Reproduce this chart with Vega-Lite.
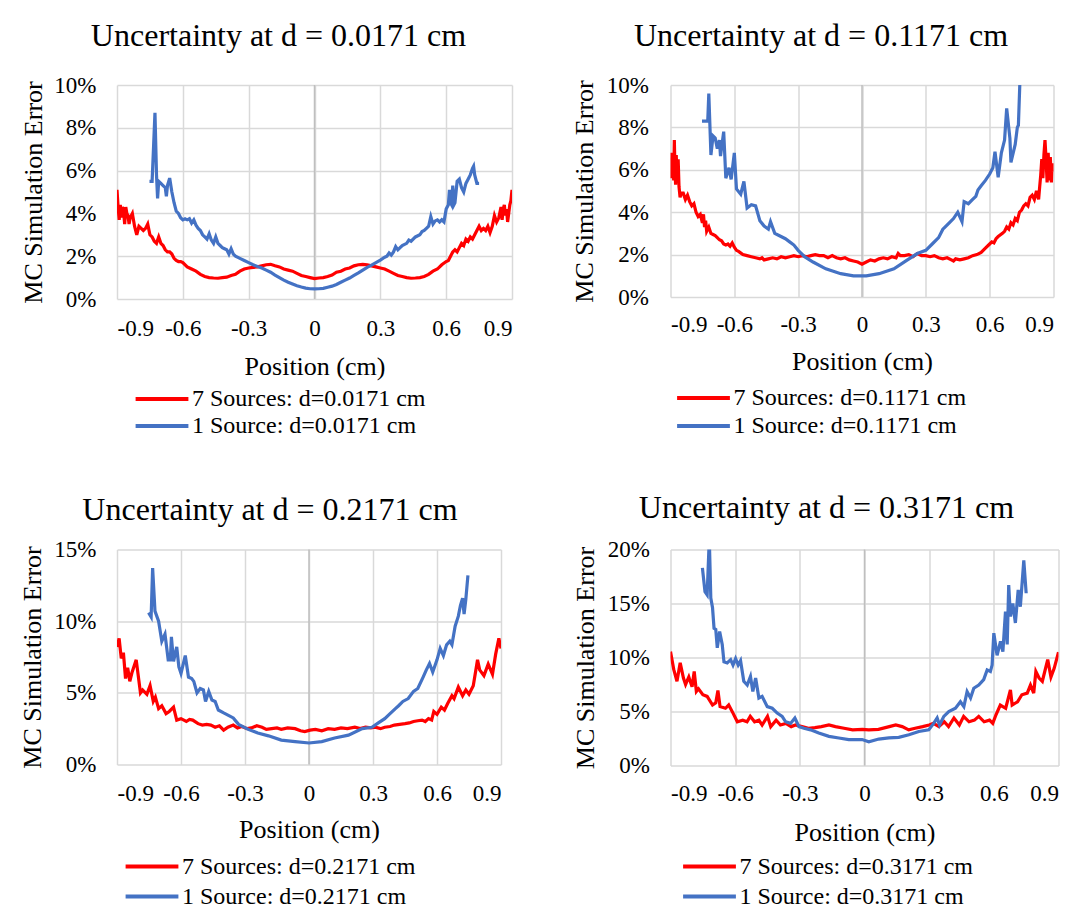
{
  "$schema": "https://vega.github.io/schema/vega-lite/v6.json",
  "background": "white",
  "autosize": {"type": "none"},
  "padding": {"left": 117, "top": 85, "right": 959, "bottom": 837},
  "config": {
    "font": "Liberation Serif",
    "view": {"stroke": null},
    "style": {"guide-label": {"font": "Liberation Serif", "fontSize": 23, "fill": "black"}, "guide-title": {"font": "Liberation Serif", "fontSize": 26, "fill": "black", "fontWeight": "normal"}},
    "title": {"font": "Liberation Serif", "fontSize": 32, "fontWeight": "normal", "color": "black", "frame": "group", "anchor": "middle"},
    "axis": {"labelFont": "Liberation Serif", "labelFontSize": 23, "labelColor": "black", "titleFont": "Liberation Serif", "titleFontSize": 26, "titleFontWeight": "normal", "titleColor": "black", "gridColor": "#D9D9D9", "gridWidth": 1.5, "ticks": false, "domain": false, "grid": true},
    "legend": {"orient": "none", "direction": "vertical", "labelFont": "Liberation Serif", "labelFontSize": 24, "labelColor": "black", "symbolType": "M-2.2,0H2.2", "symbolSize": 576, "symbolStrokeWidth": 4, "labelOffset": 16, "rowPadding": 2, "padding": 0, "labelLimit": 400}
  },
  "datasets": {
    "p1r": [{"x":-0.9,"y":5.1},{"x":-0.895,"y":4.3},{"x":-0.89,"y":3.7},{"x":-0.885,"y":4.4},{"x":-0.88,"y":3.8},{"x":-0.875,"y":4.3},{"x":-0.87,"y":4.1},{"x":-0.865,"y":3.5},{"x":-0.86,"y":4.3},{"x":-0.855,"y":4.0},{"x":-0.85,"y":3.9},{"x":-0.845,"y":3.5},{"x":-0.84,"y":3.8},{"x":-0.83,"y":4.0},{"x":-0.82,"y":3.4},{"x":-0.81,"y":3.0},{"x":-0.8,"y":3.4},{"x":-0.79,"y":3.3},{"x":-0.78,"y":3.2},{"x":-0.77,"y":3.3},{"x":-0.76,"y":3.5},{"x":-0.75,"y":3.0},{"x":-0.74,"y":2.9},{"x":-0.73,"y":2.7},{"x":-0.72,"y":2.6},{"x":-0.71,"y":2.9},{"x":-0.7,"y":2.6},{"x":-0.69,"y":2.5},{"x":-0.68,"y":2.3},{"x":-0.67,"y":2.2},{"x":-0.66,"y":2.2},{"x":-0.65,"y":2.1},{"x":-0.64,"y":1.9},{"x":-0.63,"y":1.8},{"x":-0.62,"y":1.75},{"x":-0.61,"y":1.75},{"x":-0.6,"y":1.7},{"x":-0.58,"y":1.5},{"x":-0.56,"y":1.4},{"x":-0.54,"y":1.3},{"x":-0.52,"y":1.15},{"x":-0.5,"y":1.05},{"x":-0.48,"y":1.0},{"x":-0.46,"y":0.98},{"x":-0.44,"y":0.97},{"x":-0.42,"y":1.0},{"x":-0.4,"y":1.02},{"x":-0.38,"y":1.1},{"x":-0.36,"y":1.15},{"x":-0.34,"y":1.3},{"x":-0.32,"y":1.4},{"x":-0.3,"y":1.45},{"x":-0.28,"y":1.48},{"x":-0.26,"y":1.5},{"x":-0.24,"y":1.55},{"x":-0.22,"y":1.6},{"x":-0.2,"y":1.62},{"x":-0.18,"y":1.55},{"x":-0.16,"y":1.5},{"x":-0.14,"y":1.4},{"x":-0.12,"y":1.35},{"x":-0.1,"y":1.3},{"x":-0.08,"y":1.2},{"x":-0.06,"y":1.1},{"x":-0.04,"y":1.05},{"x":-0.02,"y":1.0},{"x":0,"y":0.95},{"x":0.02,"y":0.98},{"x":0.04,"y":1.0},{"x":0.06,"y":1.05},{"x":0.08,"y":1.12},{"x":0.1,"y":1.25},{"x":0.12,"y":1.3},{"x":0.14,"y":1.4},{"x":0.16,"y":1.45},{"x":0.18,"y":1.55},{"x":0.2,"y":1.6},{"x":0.22,"y":1.62},{"x":0.24,"y":1.6},{"x":0.26,"y":1.55},{"x":0.28,"y":1.5},{"x":0.3,"y":1.45},{"x":0.32,"y":1.4},{"x":0.34,"y":1.3},{"x":0.36,"y":1.2},{"x":0.38,"y":1.1},{"x":0.4,"y":1.05},{"x":0.42,"y":1.0},{"x":0.44,"y":0.97},{"x":0.46,"y":0.98},{"x":0.48,"y":1.0},{"x":0.5,"y":1.05},{"x":0.52,"y":1.15},{"x":0.54,"y":1.3},{"x":0.56,"y":1.4},{"x":0.58,"y":1.6},{"x":0.6,"y":1.75},{"x":0.61,"y":1.8},{"x":0.62,"y":2.0},{"x":0.63,"y":2.2},{"x":0.64,"y":2.3},{"x":0.65,"y":2.2},{"x":0.66,"y":2.4},{"x":0.67,"y":2.6},{"x":0.68,"y":2.5},{"x":0.69,"y":2.8},{"x":0.7,"y":2.7},{"x":0.71,"y":2.9},{"x":0.72,"y":2.8},{"x":0.73,"y":3.0},{"x":0.74,"y":3.2},{"x":0.75,"y":3.4},{"x":0.76,"y":3.2},{"x":0.77,"y":3.3},{"x":0.78,"y":3.2},{"x":0.79,"y":3.4},{"x":0.8,"y":3.1},{"x":0.81,"y":3.4},{"x":0.82,"y":3.9},{"x":0.83,"y":3.6},{"x":0.84,"y":3.8},{"x":0.85,"y":4.3},{"x":0.855,"y":3.7},{"x":0.86,"y":4.2},{"x":0.865,"y":4.4},{"x":0.87,"y":3.9},{"x":0.875,"y":4.2},{"x":0.88,"y":3.6},{"x":0.885,"y":4.0},{"x":0.89,"y":4.4},{"x":0.895,"y":4.6},{"x":0.9,"y":5.1}],
    "p1b": [{"x":-0.752,"y":5.5},{"x":-0.74,"y":5.5},{"x":-0.733,"y":7.2},{"x":-0.727,"y":8.7},{"x":-0.72,"y":5.8},{"x":-0.715,"y":4.7},{"x":-0.71,"y":5.5},{"x":-0.7,"y":5.4},{"x":-0.69,"y":5.3},{"x":-0.68,"y":5.2},{"x":-0.675,"y":4.8},{"x":-0.67,"y":5.3},{"x":-0.66,"y":5.65},{"x":-0.65,"y":5.0},{"x":-0.64,"y":4.5},{"x":-0.63,"y":4.1},{"x":-0.62,"y":4.0},{"x":-0.61,"y":3.8},{"x":-0.6,"y":3.7},{"x":-0.59,"y":3.75},{"x":-0.58,"y":3.7},{"x":-0.57,"y":3.75},{"x":-0.56,"y":3.55},{"x":-0.55,"y":3.7},{"x":-0.54,"y":3.45},{"x":-0.53,"y":3.3},{"x":-0.52,"y":3.2},{"x":-0.51,"y":3.0},{"x":-0.5,"y":2.9},{"x":-0.49,"y":2.8},{"x":-0.48,"y":3.05},{"x":-0.47,"y":2.75},{"x":-0.46,"y":2.6},{"x":-0.45,"y":2.9},{"x":-0.44,"y":2.6},{"x":-0.43,"y":2.5},{"x":-0.42,"y":2.4},{"x":-0.41,"y":2.35},{"x":-0.4,"y":2.3},{"x":-0.39,"y":2.1},{"x":-0.38,"y":2.35},{"x":-0.37,"y":2.1},{"x":-0.36,"y":2.0},{"x":-0.34,"y":1.9},{"x":-0.32,"y":1.8},{"x":-0.3,"y":1.7},{"x":-0.28,"y":1.6},{"x":-0.26,"y":1.52},{"x":-0.24,"y":1.45},{"x":-0.22,"y":1.35},{"x":-0.2,"y":1.25},{"x":-0.18,"y":1.12},{"x":-0.16,"y":1.0},{"x":-0.14,"y":0.88},{"x":-0.12,"y":0.78},{"x":-0.1,"y":0.7},{"x":-0.08,"y":0.62},{"x":-0.06,"y":0.56},{"x":-0.04,"y":0.51},{"x":-0.02,"y":0.48},{"x":0,"y":0.47},{"x":0.02,"y":0.48},{"x":0.04,"y":0.5},{"x":0.06,"y":0.55},{"x":0.08,"y":0.6},{"x":0.1,"y":0.68},{"x":0.12,"y":0.78},{"x":0.14,"y":0.88},{"x":0.16,"y":0.98},{"x":0.18,"y":1.1},{"x":0.2,"y":1.22},{"x":0.22,"y":1.35},{"x":0.24,"y":1.48},{"x":0.26,"y":1.58},{"x":0.28,"y":1.7},{"x":0.3,"y":1.82},{"x":0.32,"y":1.95},{"x":0.33,"y":2.0},{"x":0.34,"y":2.15},{"x":0.35,"y":2.05},{"x":0.36,"y":2.2},{"x":0.37,"y":2.45},{"x":0.38,"y":2.3},{"x":0.39,"y":2.4},{"x":0.4,"y":2.5},{"x":0.42,"y":2.6},{"x":0.43,"y":2.75},{"x":0.44,"y":2.7},{"x":0.46,"y":2.9},{"x":0.48,"y":3.0},{"x":0.49,"y":3.15},{"x":0.5,"y":3.2},{"x":0.51,"y":3.3},{"x":0.52,"y":3.4},{"x":0.53,"y":3.85},{"x":0.54,"y":3.5},{"x":0.55,"y":3.65},{"x":0.56,"y":3.7},{"x":0.57,"y":3.6},{"x":0.58,"y":3.7},{"x":0.59,"y":3.6},{"x":0.6,"y":4.2},{"x":0.61,"y":4.4},{"x":0.615,"y":5.1},{"x":0.62,"y":4.5},{"x":0.625,"y":4.4},{"x":0.63,"y":5.3},{"x":0.635,"y":4.4},{"x":0.64,"y":4.5},{"x":0.65,"y":5.5},{"x":0.66,"y":5.6},{"x":0.67,"y":5.2},{"x":0.68,"y":5.0},{"x":0.69,"y":5.4},{"x":0.7,"y":5.6},{"x":0.71,"y":5.8},{"x":0.72,"y":6.1},{"x":0.725,"y":6.2},{"x":0.73,"y":5.8},{"x":0.74,"y":5.4},{"x":0.75,"y":5.4}],
    "p2r": [{"x":-0.9,"y":6.3},{"x":-0.897,"y":5.6},{"x":-0.894,"y":6.8},{"x":-0.891,"y":5.7},{"x":-0.888,"y":6.6},{"x":-0.885,"y":5.5},{"x":-0.882,"y":7.4},{"x":-0.879,"y":6.0},{"x":-0.876,"y":5.3},{"x":-0.873,"y":6.7},{"x":-0.87,"y":5.8},{"x":-0.867,"y":5.4},{"x":-0.864,"y":6.5},{"x":-0.86,"y":5.2},{"x":-0.855,"y":4.7},{"x":-0.85,"y":4.9},{"x":-0.84,"y":4.9},{"x":-0.83,"y":4.6},{"x":-0.82,"y":4.8},{"x":-0.81,"y":4.5},{"x":-0.8,"y":4.3},{"x":-0.79,"y":4.4},{"x":-0.78,"y":4.0},{"x":-0.77,"y":3.8},{"x":-0.76,"y":3.9},{"x":-0.75,"y":3.5},{"x":-0.745,"y":3.9},{"x":-0.74,"y":3.3},{"x":-0.735,"y":3.6},{"x":-0.73,"y":3.1},{"x":-0.72,"y":3.3},{"x":-0.71,"y":3.0},{"x":-0.7,"y":2.95},{"x":-0.69,"y":2.9},{"x":-0.68,"y":2.8},{"x":-0.67,"y":2.7},{"x":-0.66,"y":2.65},{"x":-0.65,"y":2.5},{"x":-0.64,"y":2.45},{"x":-0.63,"y":2.5},{"x":-0.62,"y":2.4},{"x":-0.61,"y":2.55},{"x":-0.6,"y":2.35},{"x":-0.59,"y":2.2},{"x":-0.58,"y":2.15},{"x":-0.56,"y":2.0},{"x":-0.54,"y":1.95},{"x":-0.52,"y":1.9},{"x":-0.5,"y":1.85},{"x":-0.48,"y":1.8},{"x":-0.47,"y":1.85},{"x":-0.46,"y":1.75},{"x":-0.44,"y":1.8},{"x":-0.42,"y":1.85},{"x":-0.4,"y":1.8},{"x":-0.38,"y":1.9},{"x":-0.36,"y":1.85},{"x":-0.34,"y":1.9},{"x":-0.32,"y":1.95},{"x":-0.3,"y":1.9},{"x":-0.28,"y":1.95},{"x":-0.26,"y":1.9},{"x":-0.24,"y":1.95},{"x":-0.22,"y":2.0},{"x":-0.2,"y":1.95},{"x":-0.18,"y":1.95},{"x":-0.16,"y":1.85},{"x":-0.14,"y":1.95},{"x":-0.12,"y":1.85},{"x":-0.1,"y":1.8},{"x":-0.08,"y":1.85},{"x":-0.06,"y":1.75},{"x":-0.04,"y":1.7},{"x":-0.02,"y":1.65},{"x":0,"y":1.55},{"x":0.02,"y":1.65},{"x":0.04,"y":1.75},{"x":0.06,"y":1.7},{"x":0.08,"y":1.8},{"x":0.1,"y":1.85},{"x":0.12,"y":1.8},{"x":0.14,"y":1.9},{"x":0.16,"y":1.85},{"x":0.17,"y":2.05},{"x":0.18,"y":1.95},{"x":0.2,"y":1.95},{"x":0.22,"y":2.0},{"x":0.24,"y":1.9},{"x":0.26,"y":2.05},{"x":0.28,"y":1.95},{"x":0.3,"y":1.95},{"x":0.32,"y":1.9},{"x":0.34,"y":1.95},{"x":0.36,"y":1.85},{"x":0.38,"y":1.8},{"x":0.4,"y":1.85},{"x":0.42,"y":1.75},{"x":0.43,"y":1.7},{"x":0.44,"y":1.8},{"x":0.46,"y":1.75},{"x":0.48,"y":1.8},{"x":0.5,"y":1.85},{"x":0.52,"y":1.95},{"x":0.54,"y":2.0},{"x":0.56,"y":2.1},{"x":0.58,"y":2.3},{"x":0.6,"y":2.5},{"x":0.61,"y":2.6},{"x":0.62,"y":2.55},{"x":0.63,"y":2.75},{"x":0.64,"y":2.85},{"x":0.66,"y":3.0},{"x":0.67,"y":3.1},{"x":0.68,"y":3.3},{"x":0.69,"y":3.2},{"x":0.7,"y":3.5},{"x":0.71,"y":3.4},{"x":0.72,"y":3.7},{"x":0.73,"y":3.6},{"x":0.74,"y":4.0},{"x":0.75,"y":4.1},{"x":0.76,"y":4.3},{"x":0.77,"y":4.4},{"x":0.78,"y":4.3},{"x":0.79,"y":4.7},{"x":0.8,"y":4.8},{"x":0.81,"y":4.6},{"x":0.82,"y":5.0},{"x":0.83,"y":4.6},{"x":0.835,"y":5.2},{"x":0.84,"y":5.75},{"x":0.845,"y":6.5},{"x":0.85,"y":5.6},{"x":0.855,"y":6.7},{"x":0.86,"y":7.4},{"x":0.865,"y":6.5},{"x":0.87,"y":5.4},{"x":0.875,"y":6.8},{"x":0.88,"y":5.5},{"x":0.885,"y":6.6},{"x":0.89,"y":5.4},{"x":0.895,"y":6.3},{"x":0.9,"y":5.9}],
    "p2b": [{"x":-0.752,"y":8.3},{"x":-0.725,"y":8.3},{"x":-0.72,"y":9.6},{"x":-0.71,"y":6.7},{"x":-0.7,"y":7.6},{"x":-0.69,"y":7.5},{"x":-0.68,"y":7.0},{"x":-0.67,"y":7.4},{"x":-0.665,"y":6.65},{"x":-0.65,"y":7.8},{"x":-0.64,"y":5.6},{"x":-0.625,"y":6.1},{"x":-0.615,"y":5.55},{"x":-0.6,"y":6.8},{"x":-0.59,"y":5.1},{"x":-0.57,"y":4.85},{"x":-0.555,"y":5.45},{"x":-0.54,"y":4.2},{"x":-0.52,"y":4.35},{"x":-0.5,"y":4.3},{"x":-0.48,"y":3.6},{"x":-0.46,"y":3.35},{"x":-0.44,"y":3.2},{"x":-0.43,"y":3.55},{"x":-0.41,"y":3.0},{"x":-0.39,"y":2.9},{"x":-0.36,"y":2.75},{"x":-0.34,"y":2.6},{"x":-0.32,"y":2.45},{"x":-0.3,"y":2.2},{"x":-0.27,"y":1.9},{"x":-0.23,"y":1.65},{"x":-0.17,"y":1.33},{"x":-0.1,"y":1.1},{"x":-0.04,"y":1.0},{"x":0.02,"y":1.0},{"x":0.08,"y":1.1},{"x":0.15,"y":1.33},{"x":0.21,"y":1.73},{"x":0.26,"y":2.05},{"x":0.3,"y":2.2},{"x":0.33,"y":2.5},{"x":0.36,"y":2.8},{"x":0.38,"y":3.2},{"x":0.39,"y":3.3},{"x":0.41,"y":3.5},{"x":0.43,"y":3.7},{"x":0.45,"y":4.0},{"x":0.47,"y":3.55},{"x":0.48,"y":4.5},{"x":0.5,"y":4.4},{"x":0.52,"y":4.6},{"x":0.535,"y":4.75},{"x":0.545,"y":5.05},{"x":0.56,"y":5.25},{"x":0.58,"y":5.5},{"x":0.6,"y":5.8},{"x":0.615,"y":6.1},{"x":0.625,"y":6.85},{"x":0.64,"y":5.65},{"x":0.655,"y":6.8},{"x":0.67,"y":7.4},{"x":0.68,"y":8.9},{"x":0.695,"y":7.5},{"x":0.7,"y":6.35},{"x":0.72,"y":7.2},{"x":0.73,"y":8.0},{"x":0.735,"y":8.1},{"x":0.745,"y":11.0}],
    "p3r": [{"x":-0.9,"y":8.2},{"x":-0.89,"y":8.8},{"x":-0.88,"y":7.4},{"x":-0.87,"y":7.8},{"x":-0.86,"y":6.0},{"x":-0.85,"y":6.75},{"x":-0.84,"y":5.8},{"x":-0.83,"y":6.4},{"x":-0.81,"y":7.3},{"x":-0.79,"y":5.0},{"x":-0.78,"y":5.2},{"x":-0.76,"y":4.9},{"x":-0.745,"y":5.5},{"x":-0.73,"y":4.4},{"x":-0.72,"y":4.7},{"x":-0.705,"y":3.9},{"x":-0.69,"y":4.1},{"x":-0.67,"y":3.55},{"x":-0.655,"y":3.7},{"x":-0.635,"y":4.0},{"x":-0.62,"y":3.1},{"x":-0.6,"y":3.2},{"x":-0.575,"y":3.0},{"x":-0.56,"y":3.15},{"x":-0.545,"y":3.1},{"x":-0.52,"y":2.85},{"x":-0.5,"y":2.75},{"x":-0.48,"y":2.8},{"x":-0.46,"y":2.75},{"x":-0.44,"y":2.6},{"x":-0.42,"y":2.7},{"x":-0.4,"y":2.4},{"x":-0.38,"y":2.6},{"x":-0.355,"y":2.75},{"x":-0.335,"y":2.55},{"x":-0.315,"y":2.65},{"x":-0.29,"y":2.5},{"x":-0.27,"y":2.55},{"x":-0.245,"y":2.7},{"x":-0.22,"y":2.6},{"x":-0.2,"y":2.45},{"x":-0.175,"y":2.5},{"x":-0.15,"y":2.55},{"x":-0.13,"y":2.45},{"x":-0.1,"y":2.55},{"x":-0.065,"y":2.5},{"x":-0.04,"y":2.35},{"x":-0.02,"y":2.3},{"x":0.005,"y":2.4},{"x":0.03,"y":2.45},{"x":0.06,"y":2.35},{"x":0.09,"y":2.5},{"x":0.12,"y":2.45},{"x":0.15,"y":2.55},{"x":0.18,"y":2.5},{"x":0.215,"y":2.6},{"x":0.24,"y":2.5},{"x":0.265,"y":2.6},{"x":0.29,"y":2.55},{"x":0.31,"y":2.6},{"x":0.335,"y":2.5},{"x":0.355,"y":2.6},{"x":0.38,"y":2.65},{"x":0.4,"y":2.75},{"x":0.425,"y":2.8},{"x":0.45,"y":2.85},{"x":0.47,"y":2.9},{"x":0.49,"y":3.0},{"x":0.51,"y":3.05},{"x":0.53,"y":3.1},{"x":0.545,"y":3.0},{"x":0.56,"y":3.2},{"x":0.575,"y":3.1},{"x":0.585,"y":3.7},{"x":0.6,"y":3.5},{"x":0.62,"y":4.0},{"x":0.635,"y":3.8},{"x":0.65,"y":4.25},{"x":0.67,"y":4.8},{"x":0.68,"y":4.6},{"x":0.7,"y":5.4},{"x":0.72,"y":4.8},{"x":0.735,"y":5.2},{"x":0.75,"y":4.9},{"x":0.77,"y":5.5},{"x":0.79,"y":7.3},{"x":0.8,"y":6.6},{"x":0.82,"y":6.2},{"x":0.84,"y":7.0},{"x":0.86,"y":6.3},{"x":0.875,"y":7.7},{"x":0.89,"y":8.8},{"x":0.9,"y":8.1}],
    "p3b": [{"x":-0.752,"y":10.6},{"x":-0.74,"y":10.3},{"x":-0.733,"y":13.7},{"x":-0.722,"y":10.7},{"x":-0.705,"y":10.0},{"x":-0.69,"y":8.6},{"x":-0.675,"y":9.1},{"x":-0.66,"y":7.3},{"x":-0.65,"y":7.3},{"x":-0.645,"y":8.9},{"x":-0.635,"y":7.2},{"x":-0.62,"y":8.2},{"x":-0.61,"y":6.8},{"x":-0.6,"y":6.35},{"x":-0.58,"y":7.6},{"x":-0.565,"y":6.1},{"x":-0.55,"y":6.0},{"x":-0.54,"y":5.8},{"x":-0.525,"y":5.0},{"x":-0.51,"y":5.3},{"x":-0.495,"y":5.2},{"x":-0.485,"y":4.4},{"x":-0.47,"y":5.1},{"x":-0.455,"y":4.5},{"x":-0.44,"y":4.4},{"x":-0.425,"y":3.8},{"x":-0.4,"y":3.6},{"x":-0.38,"y":3.45},{"x":-0.355,"y":3.25},{"x":-0.33,"y":2.8},{"x":-0.285,"y":2.45},{"x":-0.24,"y":2.2},{"x":-0.19,"y":2.0},{"x":-0.13,"y":1.7},{"x":-0.065,"y":1.6},{"x":0,"y":1.5},{"x":0.06,"y":1.6},{"x":0.12,"y":1.85},{"x":0.185,"y":2.05},{"x":0.25,"y":2.5},{"x":0.295,"y":2.6},{"x":0.325,"y":2.9},{"x":0.355,"y":3.2},{"x":0.38,"y":3.55},{"x":0.405,"y":3.9},{"x":0.42,"y":4.1},{"x":0.44,"y":4.4},{"x":0.465,"y":4.6},{"x":0.49,"y":5.1},{"x":0.51,"y":5.3},{"x":0.535,"y":6.1},{"x":0.55,"y":6.6},{"x":0.565,"y":7.05},{"x":0.58,"y":6.45},{"x":0.6,"y":7.3},{"x":0.615,"y":8.1},{"x":0.63,"y":7.6},{"x":0.645,"y":8.35},{"x":0.66,"y":8.6},{"x":0.67,"y":8.35},{"x":0.685,"y":9.65},{"x":0.7,"y":10.35},{"x":0.71,"y":11.1},{"x":0.72,"y":11.6},{"x":0.727,"y":10.5},{"x":0.735,"y":11.5},{"x":0.745,"y":13.2}],
    "p4r": [{"x":-0.9,"y":10.55},{"x":-0.885,"y":8.9},{"x":-0.87,"y":7.8},{"x":-0.855,"y":9.5},{"x":-0.84,"y":8.1},{"x":-0.83,"y":7.5},{"x":-0.815,"y":8.2},{"x":-0.8,"y":7.3},{"x":-0.79,"y":8.7},{"x":-0.78,"y":6.85},{"x":-0.77,"y":7.1},{"x":-0.75,"y":6.55},{"x":-0.73,"y":6.4},{"x":-0.705,"y":5.6},{"x":-0.69,"y":5.8},{"x":-0.68,"y":6.95},{"x":-0.67,"y":5.45},{"x":-0.645,"y":5.3},{"x":-0.63,"y":5.6},{"x":-0.61,"y":4.85},{"x":-0.59,"y":4.05},{"x":-0.565,"y":4.2},{"x":-0.545,"y":4.05},{"x":-0.53,"y":4.55},{"x":-0.51,"y":4.05},{"x":-0.49,"y":4.2},{"x":-0.475,"y":3.75},{"x":-0.45,"y":4.55},{"x":-0.435,"y":3.6},{"x":-0.41,"y":4.2},{"x":-0.39,"y":3.75},{"x":-0.365,"y":3.9},{"x":-0.34,"y":3.6},{"x":-0.32,"y":3.75},{"x":-0.29,"y":3.6},{"x":-0.26,"y":3.45},{"x":-0.23,"y":3.5},{"x":-0.2,"y":3.6},{"x":-0.165,"y":3.75},{"x":-0.135,"y":3.6},{"x":-0.095,"y":3.45},{"x":-0.055,"y":3.3},{"x":-0.01,"y":3.35},{"x":0.02,"y":3.3},{"x":0.065,"y":3.35},{"x":0.115,"y":3.6},{"x":0.145,"y":3.75},{"x":0.175,"y":3.6},{"x":0.205,"y":3.3},{"x":0.235,"y":3.45},{"x":0.27,"y":3.6},{"x":0.3,"y":3.75},{"x":0.32,"y":3.9},{"x":0.345,"y":3.6},{"x":0.37,"y":4.05},{"x":0.39,"y":3.6},{"x":0.415,"y":4.4},{"x":0.44,"y":3.75},{"x":0.46,"y":4.55},{"x":0.485,"y":4.05},{"x":0.51,"y":4.2},{"x":0.53,"y":4.55},{"x":0.555,"y":4.05},{"x":0.58,"y":4.2},{"x":0.595,"y":3.9},{"x":0.61,"y":4.7},{"x":0.63,"y":5.6},{"x":0.655,"y":5.3},{"x":0.677,"y":7.0},{"x":0.685,"y":5.6},{"x":0.71,"y":5.9},{"x":0.73,"y":6.55},{"x":0.755,"y":6.7},{"x":0.77,"y":7.45},{"x":0.785,"y":6.7},{"x":0.795,"y":8.7},{"x":0.81,"y":8.1},{"x":0.825,"y":7.8},{"x":0.85,"y":9.8},{"x":0.865,"y":8.2},{"x":0.88,"y":9.0},{"x":0.9,"y":10.5}],
    "p4b": [{"x":-0.752,"y":18.3},{"x":-0.74,"y":16.1},{"x":-0.73,"y":15.8},{"x":-0.72,"y":21.0},{"x":-0.713,"y":15.5},{"x":-0.705,"y":14.6},{"x":-0.698,"y":12.7},{"x":-0.69,"y":12.6},{"x":-0.683,"y":10.9},{"x":-0.672,"y":12.4},{"x":-0.66,"y":11.2},{"x":-0.652,"y":9.6},{"x":-0.637,"y":9.5},{"x":-0.621,"y":9.8},{"x":-0.61,"y":9.3},{"x":-0.598,"y":9.9},{"x":-0.586,"y":9.3},{"x":-0.575,"y":9.7},{"x":-0.56,"y":7.8},{"x":-0.544,"y":7.45},{"x":-0.529,"y":8.25},{"x":-0.518,"y":6.85},{"x":-0.505,"y":8.1},{"x":-0.49,"y":6.25},{"x":-0.475,"y":6.4},{"x":-0.451,"y":5.45},{"x":-0.428,"y":5.3},{"x":-0.405,"y":4.85},{"x":-0.382,"y":4.55},{"x":-0.366,"y":4.05},{"x":-0.343,"y":3.9},{"x":-0.323,"y":4.4},{"x":-0.304,"y":3.6},{"x":-0.281,"y":3.45},{"x":-0.25,"y":3.3},{"x":-0.212,"y":3.0},{"x":-0.165,"y":2.7},{"x":-0.119,"y":2.55},{"x":-0.073,"y":2.4},{"x":-0.011,"y":2.4},{"x":0.02,"y":2.2},{"x":0.066,"y":2.45},{"x":0.113,"y":2.55},{"x":0.159,"y":2.6},{"x":0.206,"y":2.85},{"x":0.252,"y":3.15},{"x":0.298,"y":3.3},{"x":0.321,"y":3.9},{"x":0.337,"y":4.4},{"x":0.348,"y":3.75},{"x":0.368,"y":4.55},{"x":0.391,"y":5.0},{"x":0.422,"y":5.3},{"x":0.445,"y":5.9},{"x":0.461,"y":5.45},{"x":0.476,"y":6.85},{"x":0.492,"y":6.25},{"x":0.507,"y":7.15},{"x":0.53,"y":7.45},{"x":0.553,"y":7.95},{"x":0.569,"y":8.85},{"x":0.584,"y":8.7},{"x":0.592,"y":9.3},{"x":0.6,"y":12.25},{"x":0.615,"y":10.2},{"x":0.631,"y":11.5},{"x":0.642,"y":10.55},{"x":0.654,"y":14.25},{"x":0.662,"y":11.2},{"x":0.669,"y":16.7},{"x":0.677,"y":13.8},{"x":0.688,"y":15.0},{"x":0.7,"y":13.2},{"x":0.713,"y":16.25},{"x":0.723,"y":14.7},{"x":0.739,"y":19.0},{"x":0.75,"y":15.95}]
  },
  "columns": 2,
  "align": "all",
  "bounds": "flush",
  "spacing": {"row": 248.5, "column": 158.5},
  "resolve": {"scale": {"x": "independent", "y": "independent", "color": "independent"}, "legend": {"color": "independent"}},
  "concat": [
    {
      "title": {"text": "Uncertainty at d = 0.0171 cm", "dx": -36, "offset": 21},
      "width": 395, "height": 214,
      "layer": [
        {"data": {"values": [{}]}, "mark": {"type": "rule", "color": "#BFBFBF", "strokeWidth": 1.5}, "encoding": {"x": {"datum": 0}}},
        {"data": {"name": "p1r"}, "mark": {"type": "line", "strokeWidth": 3.2, "clip": true},
         "encoding": {
           "x": {"field": "x", "type": "quantitative", "scale": {"domain": [-0.9, 0.9], "nice": false, "zero": false}, "axis": {"values": [-0.9,-0.6,-0.3,0,0.3,0.6,0.9], "labelExpr": "'' + datum.value", "labelFont": "Liberation Serif", "labelFontSize": 23, "titleFont": "Liberation Serif", "titleFontSize": 26, "labelPadding": 18, "titlePadding": 13, "title": "Position (cm)"}},
           "y": {"field": "y", "type": "quantitative", "scale": {"domain": [0, 10], "nice": false}, "axis": {"values": [0,2,4,6,8,10], "labelExpr": "datum.value + '%'", "labelFont": "Liberation Serif", "labelFontSize": 23, "titleFont": "Liberation Serif", "titleFontSize": 26, "labelPadding": 21, "titlePadding": 7, "title": "MC Simulation Error"}},
           "color": {"datum": "7 Sources: d=0.0171 cm", "scale": {"domain": ["7 Sources: d=0.0171 cm", "1 Source: d=0.0171 cm"], "range": ["#FF0000", "#4472C4"]}, "legend": {"title": null, "legendX": 31, "legendY": 300, "rowPadding": 1}}
         }},
        {"data": {"name": "p1b"}, "mark": {"type": "line", "strokeWidth": 3.2, "clip": true},
         "encoding": {"x": {"field": "x", "type": "quantitative"}, "y": {"field": "y", "type": "quantitative"}, "color": {"datum": "1 Source: d=0.0171 cm"}}}
      ]
    },
    {
      "title": {"text": "Uncertainty at d = 0.1171 cm", "dx": -41, "offset": 21},
      "width": 383, "height": 212,
      "layer": [
        {"data": {"values": [{}]}, "mark": {"type": "rule", "color": "#BFBFBF", "strokeWidth": 1.5}, "encoding": {"x": {"datum": 0}}},
        {"data": {"name": "p2r"}, "mark": {"type": "line", "strokeWidth": 3.2, "clip": true},
         "encoding": {
           "x": {"field": "x", "type": "quantitative", "scale": {"domain": [-0.9, 0.9], "nice": false, "zero": false}, "axis": {"values": [-0.9,-0.6,-0.3,0,0.3,0.6,0.9], "labelExpr": "'' + datum.value", "labelFont": "Liberation Serif", "labelFontSize": 23, "titleFont": "Liberation Serif", "titleFontSize": 26, "labelPadding": 16, "titlePadding": 12, "title": "Position (cm)"}},
           "y": {"field": "y", "type": "quantitative", "scale": {"domain": [0, 10], "nice": false}, "axis": {"values": [0,2,4,6,8,10], "labelExpr": "datum.value + '%'", "labelFont": "Liberation Serif", "labelFontSize": 23, "titleFont": "Liberation Serif", "titleFontSize": 26, "labelPadding": 22, "titlePadding": 9, "title": "MC Simulation Error"}},
           "color": {"datum": "7 Sources: d=0.1171 cm", "scale": {"domain": ["7 Sources: d=0.1171 cm", "1 Source: d=0.1171 cm"], "range": ["#FF0000", "#4472C4"]}, "legend": {"title": null, "legendX": 19, "legendY": 299, "rowPadding": 2}}
         }},
        {"data": {"name": "p2b"}, "mark": {"type": "line", "strokeWidth": 3.2, "clip": true},
         "encoding": {"x": {"field": "x", "type": "quantitative"}, "y": {"field": "y", "type": "quantitative"}, "color": {"datum": "1 Source: d=0.1171 cm"}}}
      ]
    },
    {
      "title": {"text": "Uncertainty at d = 0.2171 cm", "dx": -39, "offset": 12},
      "width": 384, "height": 215,
      "layer": [
        {"data": {"values": [{}]}, "mark": {"type": "rule", "color": "#BFBFBF", "strokeWidth": 1.5}, "encoding": {"x": {"datum": 0}}},
        {"data": {"name": "p3r"}, "mark": {"type": "line", "strokeWidth": 3.2, "clip": true},
         "encoding": {
           "x": {"field": "x", "type": "quantitative", "scale": {"domain": [-0.9, 0.9], "nice": false, "zero": false}, "axis": {"values": [-0.9,-0.6,-0.3,0,0.3,0.6,0.9], "labelExpr": "'' + datum.value", "labelFont": "Liberation Serif", "labelFontSize": 23, "titleFont": "Liberation Serif", "titleFontSize": 26, "labelPadding": 18, "titlePadding": 11, "title": "Position (cm)"}},
           "y": {"field": "y", "type": "quantitative", "scale": {"domain": [0, 15], "nice": false}, "axis": {"values": [0,5,10,15], "labelExpr": "datum.value + '%'", "labelFont": "Liberation Serif", "labelFontSize": 23, "titleFont": "Liberation Serif", "titleFontSize": 26, "labelPadding": 21, "titlePadding": 8, "title": "MC Simulation Error"}},
           "color": {"datum": "7 Sources: d=0.2171 cm", "scale": {"domain": ["7 Sources: d=0.2171 cm", "1 Source: d=0.2171 cm"], "range": ["#FF0000", "#4472C4"]}, "legend": {"title": null, "legendX": 21, "legendY": 303, "rowPadding": 4}}
         }},
        {"data": {"name": "p3b"}, "mark": {"type": "line", "strokeWidth": 3.2, "clip": true},
         "encoding": {"x": {"field": "x", "type": "quantitative"}, "y": {"field": "y", "type": "quantitative"}, "color": {"datum": "1 Source: d=0.2171 cm"}}}
      ]
    },
    {
      "title": {"text": "Uncertainty at d = 0.3171 cm", "dx": -38, "offset": 14},
      "width": 388, "height": 216,
      "layer": [
        {"data": {"values": [{}]}, "mark": {"type": "rule", "color": "#BFBFBF", "strokeWidth": 1.5}, "encoding": {"x": {"datum": 0}}},
        {"data": {"name": "p4r"}, "mark": {"type": "line", "strokeWidth": 3.2, "clip": true},
         "encoding": {
           "x": {"field": "x", "type": "quantitative", "scale": {"domain": [-0.9, 0.9], "nice": false, "zero": false}, "axis": {"values": [-0.9,-0.6,-0.3,0,0.3,0.6,0.9], "labelExpr": "'' + datum.value", "labelFont": "Liberation Serif", "labelFontSize": 23, "titleFont": "Liberation Serif", "titleFontSize": 26, "labelPadding": 17, "titlePadding": 14, "title": "Position (cm)"}},
           "y": {"field": "y", "type": "quantitative", "scale": {"domain": [0, 20], "nice": false}, "axis": {"values": [0,5,10,15,20], "labelExpr": "datum.value + '%'", "labelFont": "Liberation Serif", "labelFontSize": 23, "titleFont": "Liberation Serif", "titleFontSize": 26, "labelPadding": 21, "titlePadding": 9, "title": "MC Simulation Error"}},
           "color": {"datum": "7 Sources: d=0.3171 cm", "scale": {"domain": ["7 Sources: d=0.3171 cm", "1 Source: d=0.3171 cm"], "range": ["#FF0000", "#4472C4"]}, "legend": {"title": null, "legendX": 25, "legendY": 303, "rowPadding": 4}}
         }},
        {"data": {"name": "p4b"}, "mark": {"type": "line", "strokeWidth": 3.2, "clip": true},
         "encoding": {"x": {"field": "x", "type": "quantitative"}, "y": {"field": "y", "type": "quantitative"}, "color": {"datum": "1 Source: d=0.3171 cm"}}}
      ]
    }
  ]
}
